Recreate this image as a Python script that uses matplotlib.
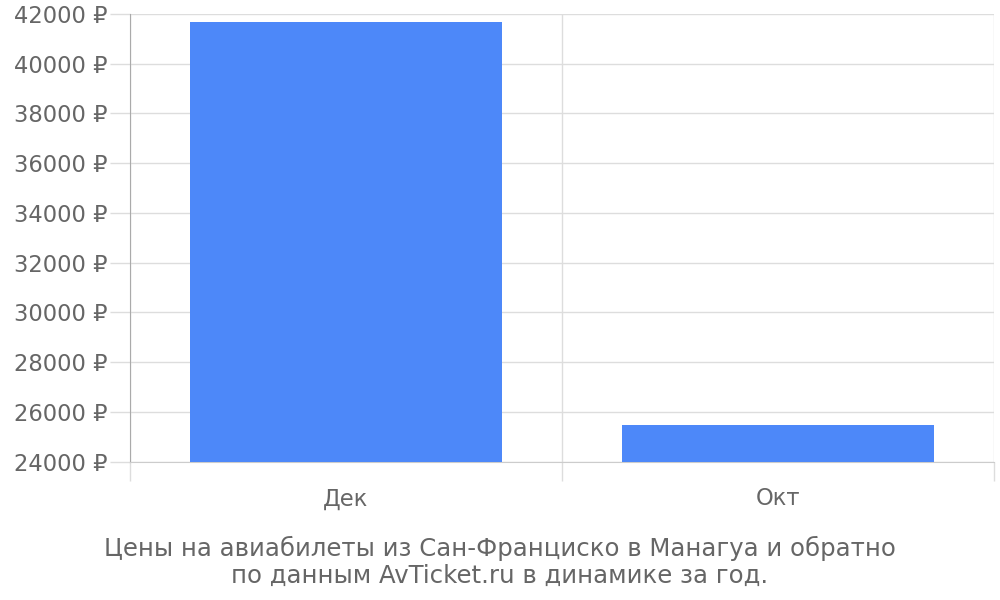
import matplotlib
matplotlib.use("Agg")
import matplotlib.pyplot as plt

# data
months = ["Дек", "Окт"]
prices = [41680, 25460]
y_ticks = list(range(24000, 42001, 2000))
caption = ("Цены на авиабилеты из Сан-Франциско в Манагуа и обратно\n"
           "по данным AvTicket.ru в динамике за год.")

text_color = "#666666"
grid_color = "#dddddd"
bar_color = "#4d88f9"

plt.rcParams["font.family"] = ["DejaVu Sans"]

fig = plt.figure(figsize=(10, 6), dpi=100)
ax = fig.add_axes([0.130, 0.2305, 0.864, 0.7465])

x = list(range(len(months)))
ax.bar(x, [p - y_ticks[0] for p in prices], bottom=y_ticks[0],
       width=0.72, color=bar_color, zorder=3)

ax.set_xlim(-0.5, len(months) - 0.5)
ax.set_ylim(y_ticks[0], y_ticks[-1])

ax.set_yticks(y_ticks)
ax.set_yticklabels([f"{t} ₽" for t in y_ticks])
ax.set_xticks(x)
ax.set_xticklabels(months)
ax.set_xticks([i - 0.5 for i in range(len(months) + 1)], minor=True)

ax.tick_params(axis="y", length=14.4, width=1, color=grid_color, pad=1.5,
               labelsize=16.3, labelcolor=text_color)
ax.tick_params(axis="x", which="major", length=0, pad=18.5,
               labelsize=16.3, labelcolor=text_color)
ax.tick_params(axis="x", which="minor", length=14, width=1, color=grid_color)

ax.grid(axis="y", color=grid_color, linewidth=1, zorder=0)
ax.grid(axis="x", which="minor", color=grid_color, linewidth=1, zorder=0)

for side in ["top", "right"]:
    ax.spines[side].set_visible(False)
ax.spines["left"].set_color("#aaaaaa")
ax.spines["bottom"].set_color("#cccccc")

fig.text(0.5, 0.0633, caption, ha="center", va="center", fontsize=17.6,
         color=text_color, linespacing=1.15)

fig.savefig("out.png", dpi=100)
